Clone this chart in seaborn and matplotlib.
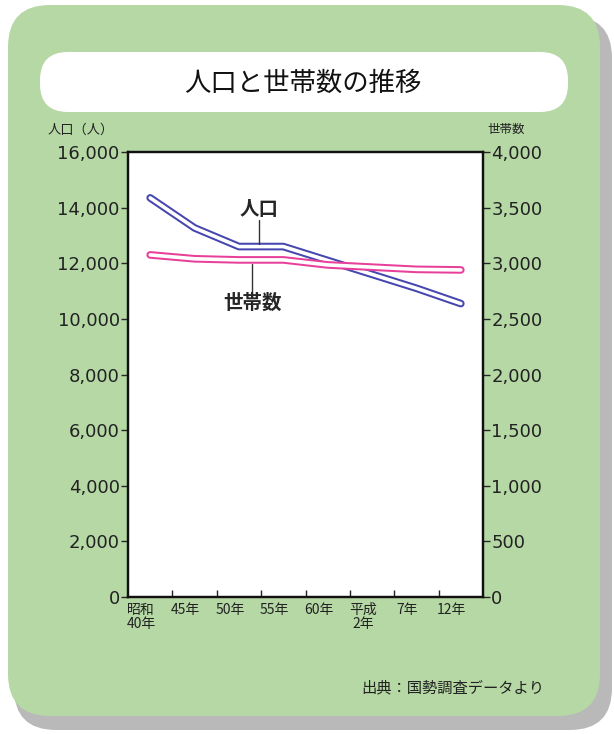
import matplotlib
matplotlib.use('Agg')
import matplotlib.pyplot as plt
import matplotlib.transforms as mtransforms
from matplotlib.patches import FancyBboxPatch
from matplotlib.ticker import FuncFormatter, FixedLocator
import seaborn as sns

years = ['昭和\n40年', '45年', '50年', '55年', '60年', '平成\n2年', '7年', '12年']
population = [14350, 13270, 12600, 12600, 12100, 11600, 11100, 10550]
households = [3075, 3040, 3030, 3030, 2985, 2965, 2945, 2940]

sns.set_style('white')
plt.rcParams['font.family'] = ['DejaVu Sans', 'Noto Sans CJK JP']
jp = ['Noto Sans CJK JP', 'DejaVu Sans']

fig = plt.figure(figsize=(6.14, 7.34), dpi=100)
fig.patch.set_facecolor('white')

# background panel in pixel coords
bg = fig.add_axes([0, 0, 1, 1], zorder=0)
bg.set_xlim(0, 614)
bg.set_ylim(734, 0)
bg.axis('off')
bg.add_patch(FancyBboxPatch((14, 16), 598, 714, boxstyle='round,pad=0,rounding_size=42',
                            fc='#a8a8a8', ec='none', alpha=0.8))
bg.add_patch(FancyBboxPatch((8, 5), 592, 711, boxstyle='round,pad=0,rounding_size=42',
                            fc='#b5d8a5', ec='none'))
bg.add_patch(FancyBboxPatch((40, 52), 528, 60, boxstyle='round,pad=0,rounding_size=28',
                            fc='white', ec='none'))
bg.text(303, 83, '人口と世帯数の推移', fontsize=19, family=jp, ha='center', va='center', color='#111')
bg.text(81, 130, '人口（人）', fontsize=9.5, family=jp, ha='center', va='center', color='#222')
bg.text(506, 129, '世帯数', fontsize=9, family=jp, ha='center', va='center', color='#222')
bg.text(544, 688, '出典：国勢調査データより', fontsize=11, family=jp, ha='right', va='center', color='#222')

ax = fig.add_axes([128 / 614, 1 - 597 / 734, 355 / 614, 445 / 734], zorder=1)
ax.set_facecolor('white')
ax2 = ax.twinx()

x = list(range(len(years)))

sns.lineplot(x=x, y=population, ax=ax, color='#4646b0', linewidth=5.5, solid_capstyle='round')
sns.lineplot(x=x, y=population, ax=ax, color='white', linewidth=2.6, solid_capstyle='round')
sns.lineplot(x=x, y=households, ax=ax2, color='#e8409a', linewidth=5.5, solid_capstyle='round')
sns.lineplot(x=x, y=households, ax=ax2, color='white', linewidth=2.6, solid_capstyle='round')

ax.set_xlim(-0.5, 7.5)
ax.set_ylim(0, 16000)
ax2.set_ylim(0, 4000)
ax.set_yticks(range(0, 16001, 2000))
ax2.set_yticks(range(0, 4001, 500))
fmt = FuncFormatter(lambda v, p: f'{v:,.0f}')
ax.yaxis.set_major_formatter(fmt)
ax2.yaxis.set_major_formatter(fmt)

ax.set_xticks(x)
ax.set_xticklabels(years, fontsize=10, family=jp, linespacing=1.0, color='#222')
ax.xaxis.set_minor_locator(FixedLocator([i + 0.5 for i in range(len(years) - 1)]))
ax.tick_params(axis='x', which='major', length=0, pad=4)
ax.tick_params(axis='x', which='minor', direction='in', length=5, width=1, color='#222', bottom=True)
ax.tick_params(axis='y', direction='out', length=5, width=1, labelsize=13, pad=1, labelcolor='#222', left=True)
ax2.tick_params(axis='y', direction='out', length=5, width=1, labelsize=13, pad=1, labelcolor='#222', right=True)
shift = mtransforms.ScaledTranslation(-9 / 100, 0, fig.dpi_scale_trans)
for lab in ax.get_xticklabels():
    lab.set_transform(lab.get_transform() + shift)

for a in (ax, ax2):
    for s in a.spines.values():
        s.set_color('#111')
        s.set_linewidth(1.6)
    a.set_xlabel('')
    a.set_ylabel('')

# labels with leader lines
ax.text(2.45, 13950, '人口', fontsize=14, family=jp, weight='bold', ha='center', va='center')
ax.plot([2.45, 2.45], [13550, 12700], color='#333', linewidth=1)
ax.text(2.3, 10550, '世帯数', fontsize=14, family=jp, weight='bold', ha='center', va='center')
ax.plot([2.3, 2.3], [11980, 11000], color='#333', linewidth=1)

fig.savefig('out.png', dpi=100)
